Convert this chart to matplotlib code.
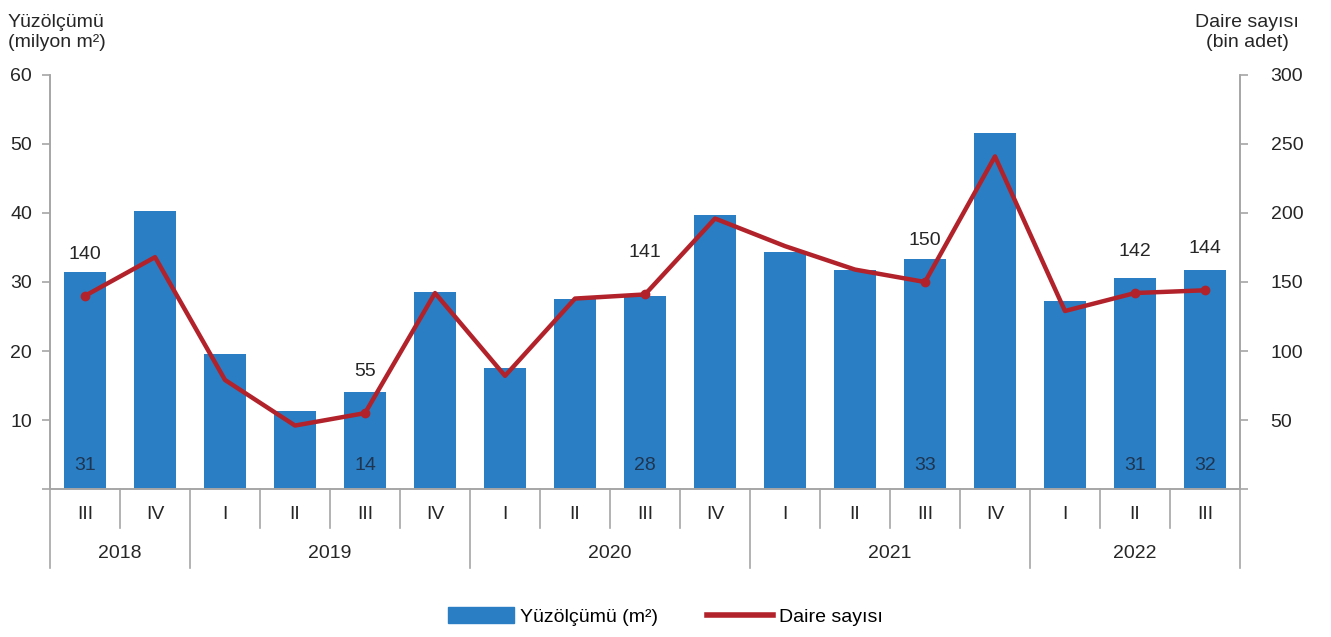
import matplotlib.pyplot as plt
from matplotlib.patches import Patch
from matplotlib.lines import Line2D
import matplotlib.transforms as mtransforms

plt.rcParams['font.family'] = ['Liberation Sans', 'DejaVu Sans']

quarters = ['III', 'IV', 'I', 'II', 'III', 'IV', 'I', 'II', 'III', 'IV',
            'I', 'II', 'III', 'IV', 'I', 'II', 'III']
years = ['2018', '2019', '2020', '2021', '2022']
year_counts = [2, 4, 4, 4, 3]

area = [31.4, 40.3, 19.5, 11.3, 14.0, 28.6, 17.6, 27.6, 27.9, 39.7,
        34.3, 31.8, 33.3, 51.6, 27.2, 30.6, 31.8]
dwellings = [140, 168, 79, 46, 55, 142, 82, 138, 141, 196,
             176, 159, 150, 241, 129, 142, 144]

# labelled points (index, bar label, line label)
label_idx = [0, 4, 8, 12, 15, 16]
area_labels = ['31', '14', '28', '33', '31', '32']
dwelling_labels = ['140', '55', '141', '150', '142', '144']

bar_color = '#2A7EC4'
line_color = '#B2222A'
grey = '#A6A6A6'
text_color = '#262626'
fs = 14

fig = plt.figure(figsize=(13.31, 6.37), dpi=100)
ax = fig.add_axes([0.0376, 0.2323, 0.8940, 0.6500])
ax2 = ax.twinx()

x = list(range(len(quarters)))
ax.bar(x, area, width=0.6, color=bar_color, zorder=2)
ax2.plot(x, dwellings, color=line_color, lw=3.2, zorder=3)
ax2.plot([x[i] for i in label_idx], [dwellings[i] for i in label_idx],
         'o', color=line_color, ms=6, zorder=4)

ax.set_xlim(-0.5, len(quarters) - 0.5)
ax.set_ylim(0, 60)
ax2.set_ylim(0, 300)
ax.set_yticks([0, 10, 20, 30, 40, 50, 60])
ax.set_yticklabels(['', '10', '20', '30', '40', '50', '60'])
ax2.set_yticks([0, 50, 100, 150, 200, 250, 300])
ax2.set_yticklabels(['', '50', '100', '150', '200', '250', '300'])

for a in (ax, ax2):
    a.spines['top'].set_visible(False)
    for s in ['left', 'right', 'bottom']:
        a.spines[s].set_color(grey)
        a.spines[s].set_linewidth(1.2)
    a.tick_params(axis='y', colors=grey, labelcolor=text_color, labelsize=fs,
                  length=6, width=1.2, pad=7)
ax2.tick_params(axis='y', pad=16)
ax.set_xticks([])

# value labels
for k, i in enumerate(label_idx):
    ax.text(x[i], 2.2, area_labels[k], ha='center', va='bottom',
            fontsize=fs, color='#1F3550', zorder=5)
    ax2.annotate(dwelling_labels[k], (x[i], dwellings[i]), xytext=(0, 30),
                 textcoords='offset points', ha='center', va='center',
                 fontsize=fs, color=text_color, zorder=5)

# category axis: quarters and years with separators
trans = mtransforms.blended_transform_factory(ax.transData, ax.transAxes)
for i, q in enumerate(quarters):
    ax.text(i, -0.062, q, transform=trans, ha='center', va='center',
            fontsize=fs, color=text_color)
bounds = [-0.5]
for c in year_counts:
    bounds.append(bounds[-1] + c)
for i in range(len(quarters) + 1):
    b = i - 0.5
    low = -0.19 if b in bounds else -0.095
    ax.plot([b, b], [0, low], transform=trans, color=grey, lw=1.2,
            clip_on=False)
for k, yname in enumerate(years):
    ax.text((bounds[k] + bounds[k + 1]) / 2, -0.155, yname, transform=trans,
            ha='center', va='center', fontsize=fs, color=text_color)

# axis titles
fig.text(0.006, 0.978, 'Yüzölçümü\n(milyon m²)', ha='left', va='top',
         fontsize=fs, color=text_color, linespacing=1.2)
fig.text(0.976, 0.978, 'Daire sayısı\n(bin adet)', ha='right', va='top',
         fontsize=fs, color=text_color, linespacing=1.2, multialignment='center')

handles = [Patch(color=bar_color, label='Yüzölçümü (m²)'),
           Line2D([0], [0], color=line_color, lw=4, label='Daire sayısı')]
fig.legend(handles=handles, loc='center', bbox_to_anchor=(0.5, 0.032),
           ncol=2, frameon=False, fontsize=fs, handlelength=3.4,
           handleheight=0.9, handletextpad=0.3, columnspacing=2.5)

fig.savefig('out.png', dpi=100)
